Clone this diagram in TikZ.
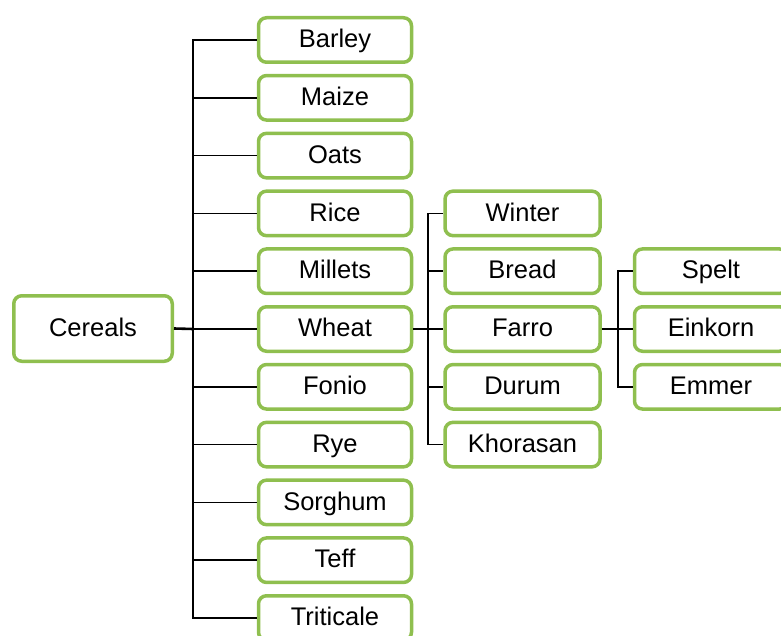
\documentclass[tikz,border=0pt]{standalone}
\usepackage{fontspec}
\setmainfont{Liberation Sans}
\definecolor{boxgreen}{RGB}{143,191,79}
\begin{document}
\begin{tikzpicture}[x=1pt,y=-1pt,
  cbox/.style={draw=boxgreen,line width=3.5pt,rounded corners=8pt,fill=white,
    minimum width=153pt,minimum height=44.5pt,inner sep=0pt,
    text height=19pt,text depth=3.5pt,
    font=\fontsize{25.5}{30}\selectfont,text=black},
  conn/.style={draw=black,line width=1.7pt},
  trunk/.style={draw=black,line width=2.6pt}]
\useasboundingbox (0,0) rectangle (781,636);
\node[cbox,minimum width=158.5pt,minimum height=65.5pt] (cer) at (93,328.5) {Cereals};
\foreach \n/\t [count=\i from 0] in {bar/Barley,mai/Maize,oat/Oats,ric/Rice,mil/Millets,whe/Wheat,fon/Fonio,rye/Rye,sor/Sorghum,tef/Teff,tri/Triticale}{
  \node[cbox] (\n) at (335,{329+(\i-5)*57.8}) {\t};
}
\foreach \n/\t [count=\i from 0] in {win/Winter,bre/Bread,far/Farro,dur/Durum,kho/Khorasan}{
  \node[cbox,minimum width=155pt] (\n) at (522.5,{329+(\i-2)*57.8}) {\t};
}
\foreach \n/\t [count=\i from 0] in {spe/Spelt,ein/Einkorn,emm/Emmer}{
  \node[cbox] (\n) at (711,{329+(\i-1)*57.8}) {\t};
}
% level 1
\coordinate (b1) at (193,329);
\draw[trunk] (cer.east) -- (b1);
\draw[conn] (bar.west) -| (b1) |- (tri.west);
\foreach \n in {mai,oat,ric,mil,whe,fon,rye,sor,tef}{
  \draw[conn] (b1 |- \n.west) -- (\n.west);
}
% level 2
\coordinate (b2) at (428,329);
\draw[trunk] (whe.east) -- (b2);
\draw[conn] (win.west) -| (b2) |- (kho.west);
\foreach \n in {bre,far,dur}{
  \draw[conn] (b2 |- \n.west) -- (\n.west);
}
% level 3
\coordinate (b3) at (618,329);
\draw[trunk] (far.east) -- (b3);
\draw[conn] (spe.west) -| (b3) |- (emm.west);
\draw[conn] (b3) -- (ein.west);
\end{tikzpicture}
\end{document}
